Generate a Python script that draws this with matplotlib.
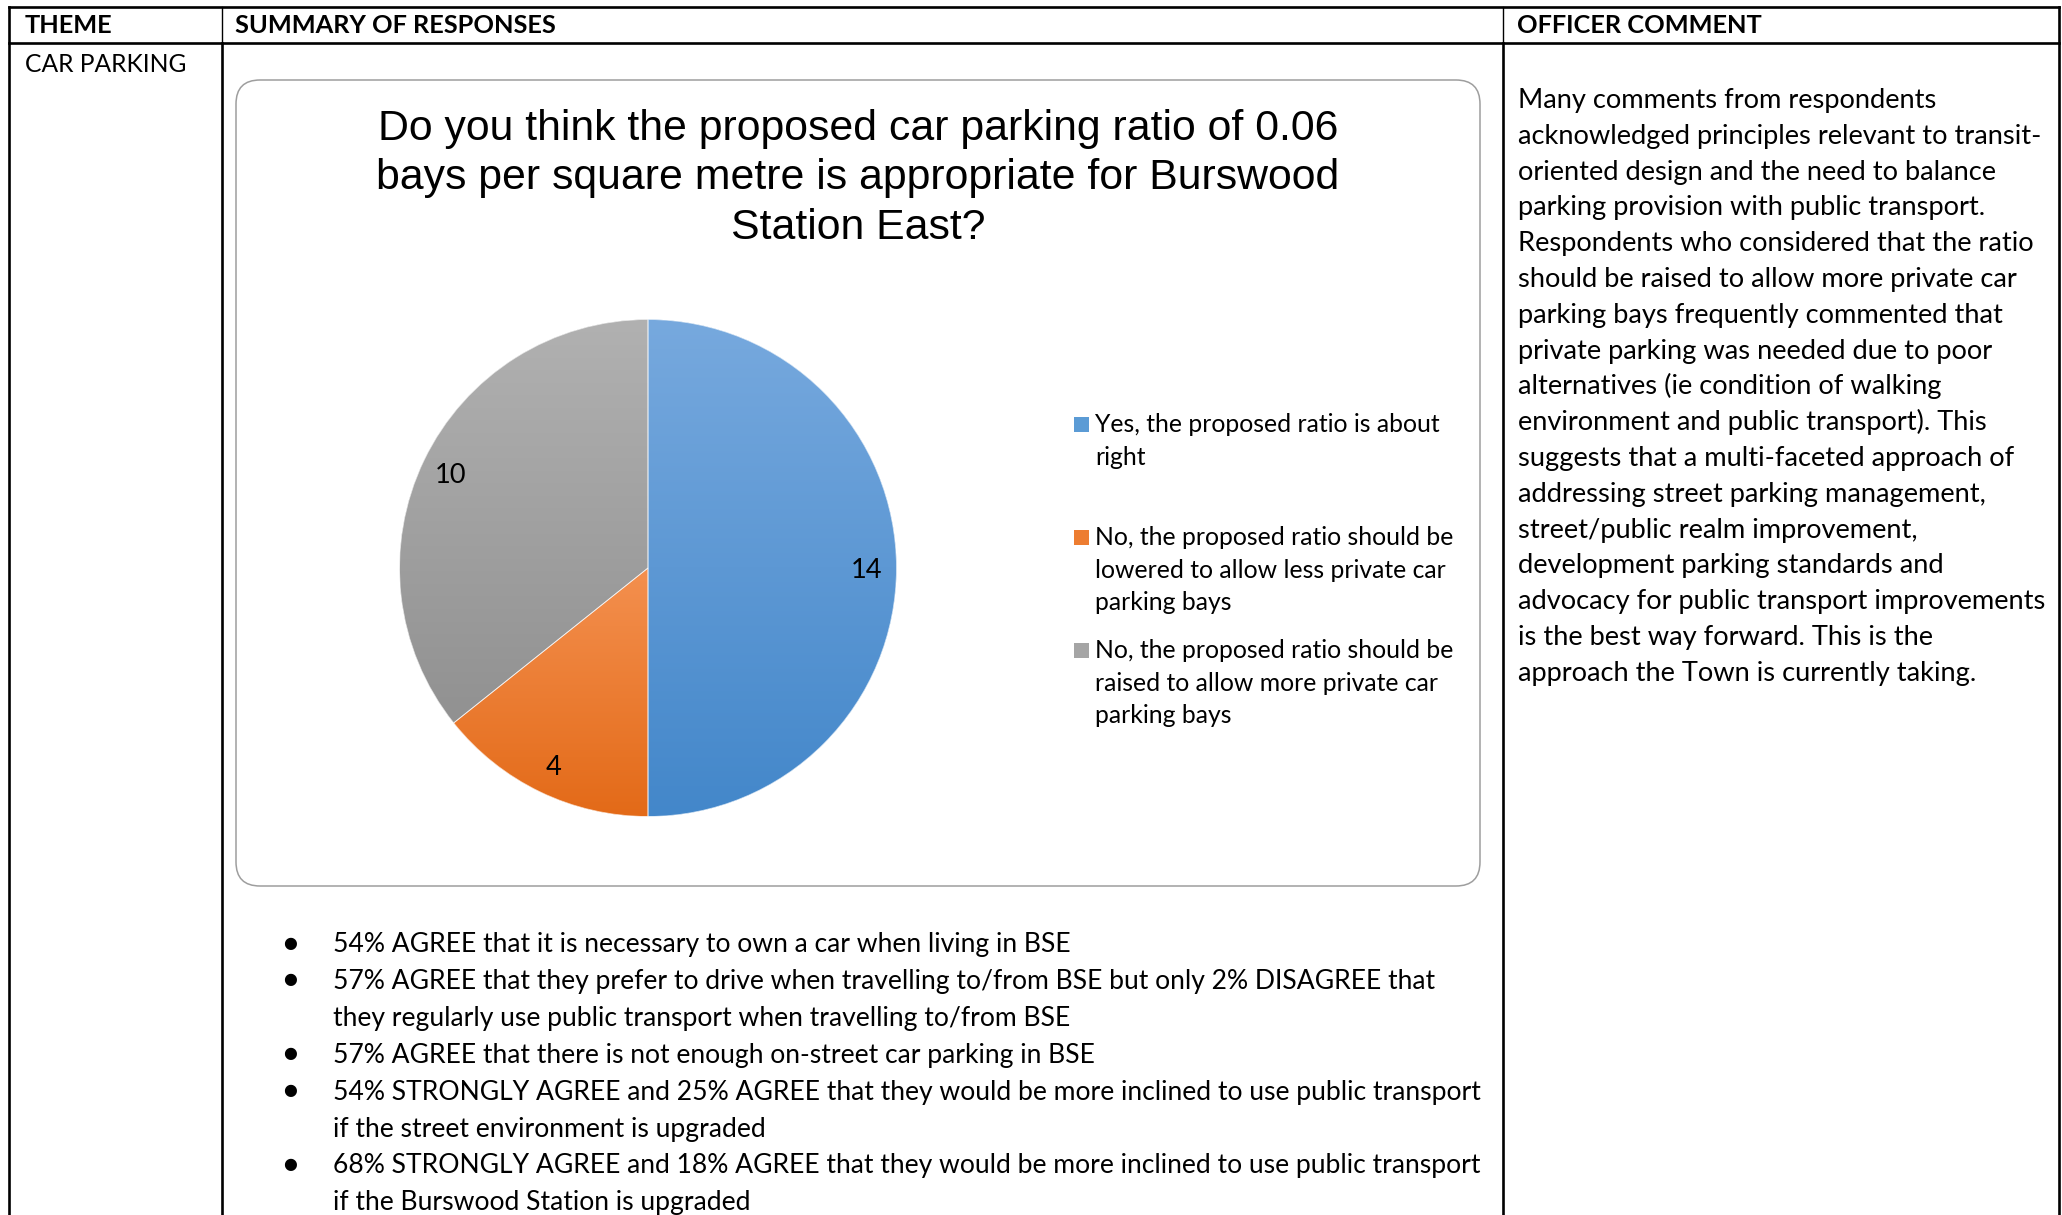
import numpy as np
import matplotlib
matplotlib.use("Agg")
import matplotlib.pyplot as plt
from matplotlib.patches import FancyBboxPatch, Rectangle, Wedge
from matplotlib.colors import LinearSegmentedColormap

# ---------------- data ----------------
categories = [
    "Yes, the proposed ratio is about\nright",
    "No, the proposed ratio should be\nlowered to allow less private car\nparking bays",
    "No, the proposed ratio should be\nraised to allow more private car\nparking bays",
]
values = [14, 4, 10]
base_colors = ["#5B9BD5", "#ED7D31", "#A5A5A5"]
grad_colors = [("#77A9DE", "#4387CA"), ("#F4904F", "#E36A18"), ("#B1B1B1", "#919191")]

chart_title = ["Do you think the proposed car parking ratio of 0.06",
               "bays per square metre is appropriate for Burswood",
               "Station East?"]
headers = ["THEME", "SUMMARY OF RESPONSES", "OFFICER COMMENT"]
theme = "CAR PARKING"
bullet_lines = [
    (True, "54% AGREE that it is necessary to own a car when living in BSE"),
    (True, "57% AGREE that they prefer to drive when travelling to/from BSE but only 2% DISAGREE that"),
    (False, "they regularly use public transport when travelling to/from BSE"),
    (True, "57% AGREE that there is not enough on-street car parking in BSE"),
    (True, "54% STRONGLY AGREE and 25% AGREE that they would be more inclined to use public transport"),
    (False, "if the street environment is upgraded"),
    (True, "68% STRONGLY AGREE and 18% AGREE that they would be more inclined to use public transport"),
    (False, "if the Burswood Station is upgraded"),
]
comment_lines = [
    "Many comments from respondents",
    "acknowledged principles relevant to transit-",
    "oriented design and the need to balance",
    "parking provision with public transport.",
    "Respondents who considered that the ratio",
    "should be raised to allow more private car",
    "parking bays frequently commented that",
    "private parking was needed due to poor",
    "alternatives (ie condition of walking",
    "environment and public transport). This",
    "suggests that a multi-faceted approach of",
    "addressing street parking management,",
    "street/public realm improvement,",
    "development parking standards and",
    "advocacy for public transport improvements",
    "is the best way forward. This is the",
    "approach the Town is currently taking.",
]

# ---------------- figure ----------------
W, H = 2062, 1215
fig = plt.figure(figsize=(W / 100, H / 100), dpi=100)
fig.patch.set_facecolor("white")
renderer = fig.canvas.get_renderer()

SANS = ["Lato", "DejaVu Sans"]
ARIAL = ["Liberation Sans", "DejaVu Sans"]


def fit_size(text, family, target_w, weight="normal"):
    t = fig.text(0, 0, text, fontsize=40, family=family, weight=weight)
    w = t.get_window_extent(renderer).width
    t.remove()
    return 40 * target_w / w


bg = fig.add_axes([0, 0, 1, 1])
bg.set_xlim(0, W)
bg.set_ylim(H, 0)
bg.axis("off")

# table lines
lw_thick = 1.9
bg.plot([9, 2059], [7, 7], color="black", lw=lw_thick, solid_capstyle="projecting")
bg.plot([9, 2059], [43, 43], color="black", lw=lw_thick)
bg.plot([9, 9], [7, H], color="black", lw=lw_thick)
bg.plot([2059, 2059], [7, H], color="black", lw=lw_thick)
for x in (222, 1503):
    bg.plot([x, x], [7, 43], color="black", lw=1.0)
    bg.plot([x, x], [43, H], color="black", lw=lw_thick)

# headers
hs = fit_size(headers[1], SANS, 322, weight="bold")
for x, t in zip((25, 235, 1517), headers):
    bg.text(x, 33, t, fontsize=hs, family=SANS, weight="bold", va="baseline", ha="left")
ts = fit_size(theme, SANS, 162)
bg.text(25, 72, theme, fontsize=ts, family=SANS, va="baseline", ha="left")

# chart frame
frame = FancyBboxPatch((236, 80), 1480 - 236, 886 - 80,
                       boxstyle="round,pad=0,rounding_size=24",
                       facecolor="white", edgecolor="#9E9E9E", lw=1.1)
bg.add_patch(frame)

# chart title
tsz = fit_size(chart_title[0], ARIAL, 959)
for y, line in zip((140, 189, 239), chart_title):
    bg.text(858, y, line, fontsize=tsz, family=ARIAL, ha="center", va="baseline", color="black")

# pie axes
cx, cy, R = 648, 568, 248.5
half = 300
ax = fig.add_axes([(cx - half) / W, (H - cy - half) / H, 2 * half / W, 2 * half / H])
lsz = fit_size("No, the proposed ratio should be", SANS, 357)
total = sum(values)
wedges, texts, autotexts = ax.pie(
    values, colors=base_colors, startangle=90, counterclock=False, radius=1,
    autopct=lambda p: f"{round(p * total / 100)}", pctdistance=0.88,
    textprops=dict(fontsize=lsz * 1.1, family=SANS, color="black"),
    wedgeprops=dict(linewidth=0),
)
for w, (ct, cb) in zip(wedges, grad_colors):
    bb = w.get_path().get_extents()
    cmap = LinearSegmentedColormap.from_list("g", [ct, cb])
    im = ax.imshow(np.linspace(0, 1, 256)[:, None], cmap=cmap,
                   extent=(bb.x0, bb.x1, bb.y0, bb.y1), origin="upper",
                   aspect="auto", interpolation="bilinear", zorder=1.1)
    im.set_clip_path(w)
    ax.add_patch(Wedge(w.center, w.r, w.theta1, w.theta2, fill=False,
                       edgecolor="white", lw=0.6, alpha=0.7, zorder=1.2))
for t in autotexts:
    t.set_zorder(3)
    t.set_va("center_baseline")
lim = half / R
ax.set_xlim(-lim, lim)
ax.set_ylim(-lim, lim)
ax.set_aspect("equal")
ax.axis("off")

# legend (manual, squares aligned to first text line)
leg_baselines = [432, 545, 658]
line_h = 32.7
for w, lab, yb in zip(wedges, categories, leg_baselines):
    bg.add_patch(Rectangle((1074, yb - 15), 15, 15, facecolor=w.get_facecolor(), edgecolor="none"))
    for k, part in enumerate(lab.split("\n")):
        bg.text(1095, yb + k * line_h, part, fontsize=lsz, family=SANS,
                va="baseline", ha="left", color="black")

# bullets
bsz = fit_size(bullet_lines[4][1], SANS, 1147)
for k, (is_b, line) in enumerate(bullet_lines):
    yb = 952 + k * 36.9
    if is_b:
        bg.text(290, yb - 9, "\u25CF", fontsize=bsz * 0.6, family=["DejaVu Sans"],
                ha="center", va="center", color="black")
    bg.text(333, yb, line, fontsize=bsz, family=SANS, va="baseline", ha="left", color="black")

# officer comment
csz = fit_size(comment_lines[14], SANS, 529)
for k, line in enumerate(comment_lines):
    bg.text(1518, 108 + k * 35.8, line, fontsize=csz, family=SANS,
            va="baseline", ha="left", color="black")

fig.savefig("out.png", dpi=100, facecolor="white")
